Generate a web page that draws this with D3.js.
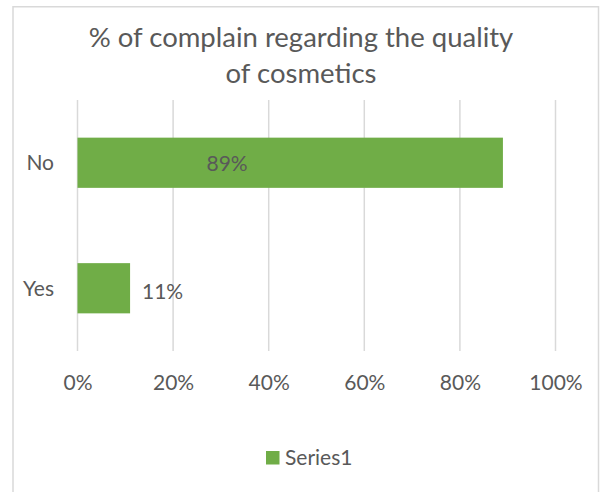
<!DOCTYPE html>
<html>
<head>
<meta charset="utf-8">
<script src="https://cdn.jsdelivr.net/npm/d3@7"></script>
<style>
  html, body { margin: 0; padding: 0; background: #ffffff; }
  svg { display: block; }
  text { font-family: Lato, "Open Sans", sans-serif; fill: #595959; }
</style>
</head>
<body>
<svg id="chart" width="600" height="492"></svg>
<script>
// Share of respondents who complained about cosmetics quality
const categories = ["No", "Yes"];
const values = [0.89, 0.11];
const labels = ["89%", "11%"];
const xTicks = [0, 0.2, 0.4, 0.6, 0.8, 1.0];
const seriesName = "Series1";
const titleLines = ["% of complain regarding the quality", "of cosmetics"];

// where each value label sits along the axis (axis fraction)
const labelAnchor = [0.313, 0.178];

const svg = d3.select("#chart");
const green = "#70AD47";
const grid = "#d9d9d9";

// outer chart frame
svg.append("rect")
  .attr("x", 13).attr("y", 6.75)
  .attr("width", 585.5).attr("height", 500)
  .attr("fill", "#fff")
  .attr("stroke", grid).attr("stroke-width", 1.5);

// title
const title = svg.append("text")
  .attr("text-anchor", "middle")
  .style("font-size", "27.5px");
titleLines.forEach((t, i) => {
  title.append("tspan").attr("x", 301).attr("y", 47 + i * 36).text(t);
});

const plot = { left: 77.5, right: 555.5, top: 100, bottom: 351 };

const x = d3.scaleLinear().domain([0, 1]).range([plot.left, plot.right]);
const y = d3.scaleBand().domain(categories)
  .range([plot.top, plot.bottom])
  .paddingInner(0.6).paddingOuter(0.3);

// vertical gridlines
svg.append("g").selectAll("line").data(xTicks).join("line")
  .attr("x1", d => x(d)).attr("x2", d => x(d))
  .attr("y1", plot.top).attr("y2", plot.bottom)
  .attr("stroke", grid).attr("stroke-width", 1.5);

// x axis labels
const xAxis = d3.axisBottom(x).tickValues(xTicks)
  .tickFormat(d3.format(".0%")).tickSize(0).tickPadding(0);
const gx = svg.append("g").attr("transform", `translate(0,${plot.bottom})`).call(xAxis);
gx.select(".domain").remove();
gx.selectAll("text")
  .attr("y", 39).attr("dy", null)
  .style("font-size", "21px").style("font-family", "Lato, sans-serif")
  .attr("fill", "#595959");

// category labels
const yAxis = d3.axisLeft(y).tickSize(0).tickPadding(0);
const gy = svg.append("g").attr("transform", `translate(54,0)`).call(yAxis);
gy.select(".domain").remove();
gy.selectAll("text")
  .attr("x", 0).attr("dy", "0.36em")
  .style("font-size", "21px").style("font-family", "Lato, sans-serif")
  .attr("fill", "#595959");

// bars
svg.append("g").selectAll("rect")
  .data(categories.map((c, i) => ({ c, v: values[i] })))
  .join("rect")
  .attr("x", x(0))
  .attr("y", d => y(d.c))
  .attr("width", d => x(d.v) - x(0))
  .attr("height", y.bandwidth())
  .attr("fill", green);

// value labels
svg.append("g").selectAll("text")
  .data(categories.map((c, i) => ({ c, t: labels[i], a: labelAnchor[i], i })))
  .join("text")
  .attr("x", d => x(d.a))
  .attr("y", d => y(d.c) + y.bandwidth() / 2 + (d.i === 0 ? 8.5 : 11))
  .attr("text-anchor", "middle")
  .style("font-size", "21px")
  .text(d => d.t);

// legend
const lg = svg.append("g");
lg.append("rect").attr("x", 266).attr("y", 451).attr("width", 13.5).attr("height", 13.5).attr("fill", green);
lg.append("text").attr("x", 285).attr("y", 464.5).style("font-size", "21px").text(seriesName);
</script>
</body>
</html>
